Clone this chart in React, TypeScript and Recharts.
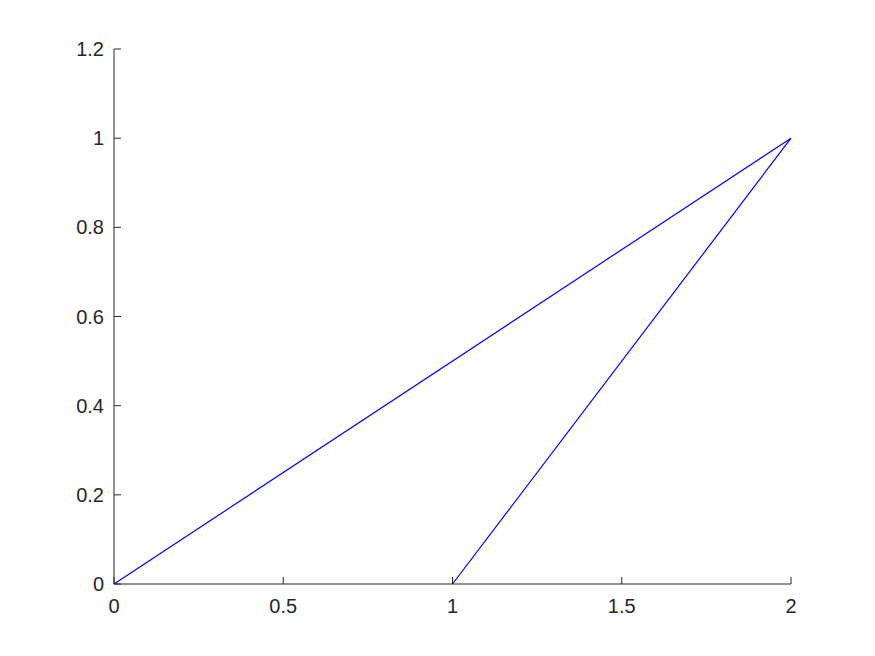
import { LineChart, Line, XAxis, YAxis } from "recharts";

// line vertices, in drawing order
const xValues = [0, 2, 1];
const yValues = [0, 1, 0];

const xTicks = [0, 0.5, 1, 1.5, 2];
const yTicks = [0, 0.2, 0.4, 0.6, 0.8, 1, 1.2];

const AXIS = "#262626";
const FONT = "'Liberation Sans', Arial, sans-serif";

const data = xValues.map((x, i) => ({ x, y: yValues[i] }));

export default function App() {
  return (
    <div style={{ position: "absolute", left: 0, top: 0, width: 875, height: 656, background: "#fff" }}>
      <LineChart
        width={875}
        height={656}
        data={data}
        margin={{ top: 49, right: 84, left: 54, bottom: 42 }}
      >
        <XAxis
          dataKey="x"
          type="number"
          domain={[0, 2]}
          ticks={xTicks}
          height={30}
          stroke={AXIS}
          tickSize={-7}
          tickMargin={22}
          tick={{ fill: AXIS, fontSize: 20, fontFamily: FONT }}
          interval={0}
        />
        <YAxis
          type="number"
          domain={[0, 1.2]}
          ticks={yTicks}
          width={60}
          stroke={AXIS}
          tickSize={-7}
          tickMargin={17}
          tick={{ fill: AXIS, fontSize: 20, fontFamily: FONT }}
          interval={0}
        />
        <Line
          dataKey="y"
          type="linear"
          stroke="#0000ff"
          strokeWidth={1.2}
          dot={false}
          isAnimationActive={false}
        />
      </LineChart>
    </div>
  );
}
